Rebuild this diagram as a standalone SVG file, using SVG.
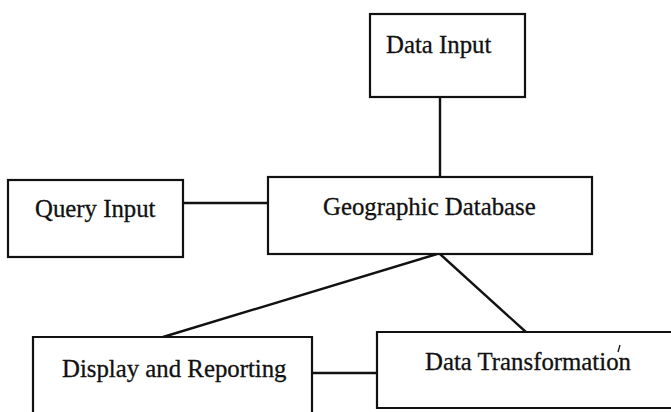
<svg xmlns="http://www.w3.org/2000/svg" width="671" height="412" viewBox="0 0 671 412">
  <style>
    .box { fill: #ffffff; stroke: #111111; stroke-width: 2.2; }
    .link { stroke: #111111; stroke-width: 2.4; fill: none; }
    .label { font-family: "Liberation Serif", "Times New Roman", serif; font-size: 24.8px; fill: #111111; stroke: #111111; stroke-width: 0.3; }
  </style>
  <rect width="671" height="412" fill="#ffffff"/>

  <!-- connectors -->
  <g id="connectors">
    <line class="link" x1="440" y1="97" x2="440" y2="178"/>
    <line class="link" x1="183" y1="203" x2="268" y2="203"/>
    <line class="link" x1="163" y1="337" x2="437" y2="254"/>
    <line class="link" x1="440" y1="254" x2="527" y2="333"/>
    <line class="link" x1="312" y1="373" x2="377" y2="373"/>
  </g>

  <g id="data-input">
    <rect class="box" x="370" y="14" width="155" height="83"/>
    <text class="label" x="386" y="53">Data Input</text>
  </g>

  <g id="query-input">
    <rect class="box" x="8" y="180" width="175" height="77"/>
    <text class="label" x="35" y="217">Query Input</text>
  </g>

  <g id="geographic-database">
    <rect class="box" x="268" y="177" width="324" height="77"/>
    <text class="label" x="323" y="215">Geographic Database</text>
  </g>

  <g id="display-reporting">
    <path class="box" d="M33,414 V337 H312 V414"/>
    <text class="label" x="62" y="377">Display and Reporting</text>
  </g>

  <g id="data-transformation">
    <path class="box" d="M673,332 H377 V408 H673"/>
    <text class="label" x="425" y="370">Data Transformation</text>
    <line x1="618" y1="352" x2="620" y2="345" stroke="#111111" stroke-width="1.3"/>
  </g>
</svg>
